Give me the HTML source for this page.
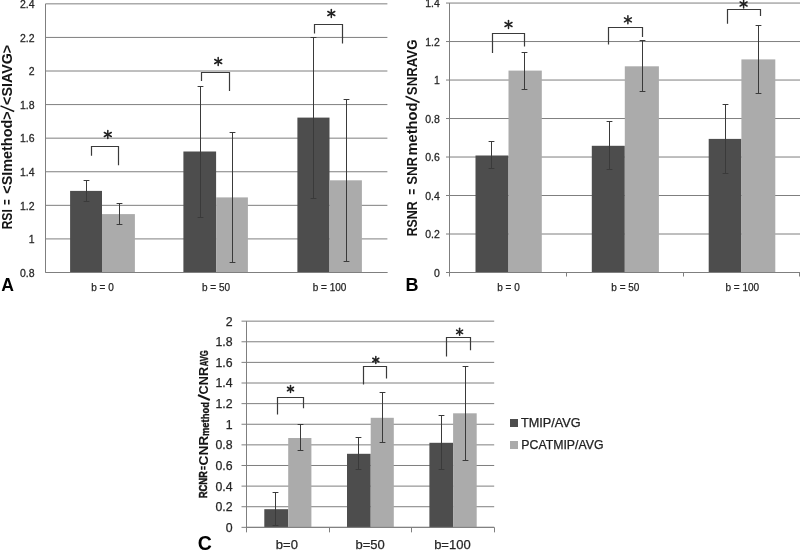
<!DOCTYPE html>
<html><head><meta charset="utf-8"><title>Figure</title>
<style>html,body{margin:0;padding:0;background:#fff;}body{width:800px;height:550px;overflow:hidden;}svg{display:block;font-family:"Liberation Sans", sans-serif;filter:grayscale(1) blur(0.3px);}</style></head><body>
<svg width="800" height="550" viewBox="0 0 800 550">
<rect x="0" y="0" width="800" height="550" fill="#ffffff"/>
<line x1="45.50" y1="3.85" x2="387.4" y2="3.85" stroke="#7f7f7f" stroke-width="1"/>
<text transform="translate(34.6,8.15) scale(1.05,1)" text-anchor="end" font-size="10.0" fill="#262626" stroke="#262626" stroke-width="0.25">2.4</text>
<line x1="45.50" y1="37.43" x2="387.4" y2="37.43" stroke="#7f7f7f" stroke-width="1"/>
<text transform="translate(34.6,41.73) scale(1.05,1)" text-anchor="end" font-size="10.0" fill="#262626" stroke="#262626" stroke-width="0.25">2.2</text>
<line x1="45.50" y1="71.01" x2="387.4" y2="71.01" stroke="#7f7f7f" stroke-width="1"/>
<text transform="translate(34.6,75.31) scale(1.05,1)" text-anchor="end" font-size="10.0" fill="#262626" stroke="#262626" stroke-width="0.25">2</text>
<line x1="45.50" y1="104.59" x2="387.4" y2="104.59" stroke="#7f7f7f" stroke-width="1"/>
<text transform="translate(34.6,108.89) scale(1.05,1)" text-anchor="end" font-size="10.0" fill="#262626" stroke="#262626" stroke-width="0.25">1.8</text>
<line x1="45.50" y1="138.17" x2="387.4" y2="138.17" stroke="#7f7f7f" stroke-width="1"/>
<text transform="translate(34.6,142.47) scale(1.05,1)" text-anchor="end" font-size="10.0" fill="#262626" stroke="#262626" stroke-width="0.25">1.6</text>
<line x1="45.50" y1="171.76" x2="387.4" y2="171.76" stroke="#7f7f7f" stroke-width="1"/>
<text transform="translate(34.6,176.06) scale(1.05,1)" text-anchor="end" font-size="10.0" fill="#262626" stroke="#262626" stroke-width="0.25">1.4</text>
<line x1="45.50" y1="205.34" x2="387.4" y2="205.34" stroke="#7f7f7f" stroke-width="1"/>
<text transform="translate(34.6,209.64) scale(1.05,1)" text-anchor="end" font-size="10.0" fill="#262626" stroke="#262626" stroke-width="0.25">1.2</text>
<line x1="45.50" y1="238.92" x2="387.4" y2="238.92" stroke="#7f7f7f" stroke-width="1"/>
<text transform="translate(34.6,243.22) scale(1.05,1)" text-anchor="end" font-size="10.0" fill="#262626" stroke="#262626" stroke-width="0.25">1</text>
<line x1="45.50" y1="272.50" x2="387.4" y2="272.50" stroke="#7f7f7f" stroke-width="1"/>
<text transform="translate(34.6,276.80) scale(1.05,1)" text-anchor="end" font-size="10.0" fill="#262626" stroke="#262626" stroke-width="0.25">0.8</text>
<line x1="45.5" y1="3.85" x2="45.5" y2="272.50" stroke="#7f7f7f" stroke-width="1"/>
<rect x="70.1" y="190.9" width="31.90" height="81.60" fill="#4d4d4d"/>
<rect x="102" y="214.1" width="32.90" height="58.40" fill="#ababab"/>
<rect x="183.4" y="151.5" width="32.70" height="121.00" fill="#4d4d4d"/>
<rect x="216.1" y="197.4" width="31.80" height="75.10" fill="#ababab"/>
<rect x="297.4" y="117.6" width="32.10" height="154.90" fill="#4d4d4d"/>
<rect x="329.5" y="180.3" width="32.40" height="92.20" fill="#ababab"/>
<line x1="45.5" y1="272.50" x2="387.4" y2="272.50" stroke="#7f7f7f" stroke-width="1"/>
<path d="M86.5 180.5 L86.5 201.5 M83.6 180.5 L89.4 180.5 M83.6 201.5 L89.4 201.5" fill="none" stroke="#3a3a3a" stroke-width="1"/>
<path d="M119.5 203.5 L119.5 224.5 M116.6 203.5 L122.4 203.5 M116.6 224.5 L122.4 224.5" fill="none" stroke="#3a3a3a" stroke-width="1"/>
<path d="M200.5 86.5 L200.5 217.5 M197.6 86.5 L203.4 86.5 M197.6 217.5 L203.4 217.5" fill="none" stroke="#3a3a3a" stroke-width="1"/>
<path d="M232.5 132.5 L232.5 262.5 M229.6 132.5 L235.4 132.5 M229.6 262.5 L235.4 262.5" fill="none" stroke="#3a3a3a" stroke-width="1"/>
<path d="M313.5 37.5 L313.5 198.5 M310.6 37.5 L316.4 37.5 M310.6 198.5 L316.4 198.5" fill="none" stroke="#3a3a3a" stroke-width="1"/>
<path d="M346.5 99.5 L346.5 261.5 M343.6 99.5 L349.4 99.5 M343.6 261.5 L349.4 261.5" fill="none" stroke="#3a3a3a" stroke-width="1"/>
<path d="M91.5 155.7 L91.5 146.5 L118.5 146.5 L118.5 165.3" fill="none" stroke="#3a3a3a" stroke-width="1.2"/>
<path d="M201.5 81 L201.5 72.5 L229.5 72.5 L229.5 91" fill="none" stroke="#3a3a3a" stroke-width="1.2"/>
<path d="M314.5 33.6 L314.5 24.5 L342.5 24.5 L342.5 43.5" fill="none" stroke="#3a3a3a" stroke-width="1.2"/>
<line x1="107.80" y1="130.50" x2="107.80" y2="138.50" stroke="#222" stroke-width="1.5" stroke-linecap="round"/><line x1="104.34" y1="132.50" x2="111.26" y2="136.50" stroke="#222" stroke-width="1.5" stroke-linecap="round"/><line x1="111.26" y1="132.50" x2="104.34" y2="136.50" stroke="#222" stroke-width="1.5" stroke-linecap="round"/>
<line x1="218.20" y1="57.50" x2="218.20" y2="65.50" stroke="#222" stroke-width="1.5" stroke-linecap="round"/><line x1="214.74" y1="59.50" x2="221.66" y2="63.50" stroke="#222" stroke-width="1.5" stroke-linecap="round"/><line x1="221.66" y1="59.50" x2="214.74" y2="63.50" stroke="#222" stroke-width="1.5" stroke-linecap="round"/>
<line x1="331.30" y1="9.50" x2="331.30" y2="17.50" stroke="#222" stroke-width="1.5" stroke-linecap="round"/><line x1="327.84" y1="11.50" x2="334.76" y2="15.50" stroke="#222" stroke-width="1.5" stroke-linecap="round"/><line x1="334.76" y1="11.50" x2="327.84" y2="15.50" stroke="#222" stroke-width="1.5" stroke-linecap="round"/>
<text x="102.5" y="290.8" text-anchor="middle" font-size="10" fill="#262626" stroke="#262626" stroke-width="0.25">b = 0</text>
<text x="216" y="290.8" text-anchor="middle" font-size="10" fill="#262626" stroke="#262626" stroke-width="0.25">b = 50</text>
<text x="329.5" y="290.8" text-anchor="middle" font-size="10" fill="#262626" stroke="#262626" stroke-width="0.25">b = 100</text>
<line x1="446.00" y1="3.05" x2="800" y2="3.05" stroke="#7f7f7f" stroke-width="1"/>
<text transform="translate(439.8,7.45) scale(1.05,1)" text-anchor="end" font-size="10.0" fill="#262626" stroke="#262626" stroke-width="0.25">1.4</text>
<line x1="446.00" y1="41.54" x2="800" y2="41.54" stroke="#7f7f7f" stroke-width="1"/>
<text transform="translate(439.8,45.94) scale(1.05,1)" text-anchor="end" font-size="10.0" fill="#262626" stroke="#262626" stroke-width="0.25">1.2</text>
<line x1="446.00" y1="80.04" x2="800" y2="80.04" stroke="#7f7f7f" stroke-width="1"/>
<text transform="translate(439.8,84.44) scale(1.05,1)" text-anchor="end" font-size="10.0" fill="#262626" stroke="#262626" stroke-width="0.25">1</text>
<line x1="446.00" y1="118.53" x2="800" y2="118.53" stroke="#7f7f7f" stroke-width="1"/>
<text transform="translate(439.8,122.93) scale(1.05,1)" text-anchor="end" font-size="10.0" fill="#262626" stroke="#262626" stroke-width="0.25">0.8</text>
<line x1="446.00" y1="157.02" x2="800" y2="157.02" stroke="#7f7f7f" stroke-width="1"/>
<text transform="translate(439.8,161.42) scale(1.05,1)" text-anchor="end" font-size="10.0" fill="#262626" stroke="#262626" stroke-width="0.25">0.6</text>
<line x1="446.00" y1="195.51" x2="800" y2="195.51" stroke="#7f7f7f" stroke-width="1"/>
<text transform="translate(439.8,199.91) scale(1.05,1)" text-anchor="end" font-size="10.0" fill="#262626" stroke="#262626" stroke-width="0.25">0.4</text>
<line x1="446.00" y1="234.01" x2="800" y2="234.01" stroke="#7f7f7f" stroke-width="1"/>
<text transform="translate(439.8,238.41) scale(1.05,1)" text-anchor="end" font-size="10.0" fill="#262626" stroke="#262626" stroke-width="0.25">0.2</text>
<line x1="446.00" y1="272.50" x2="800" y2="272.50" stroke="#7f7f7f" stroke-width="1"/>
<text transform="translate(439.8,276.90) scale(1.05,1)" text-anchor="end" font-size="10.0" fill="#262626" stroke="#262626" stroke-width="0.25">0</text>
<line x1="449.5" y1="3.05" x2="449.5" y2="276.50" stroke="#7f7f7f" stroke-width="1"/>
<line x1="566.50" y1="272.50" x2="566.50" y2="276.50" stroke="#7f7f7f" stroke-width="1"/>
<line x1="683.50" y1="272.50" x2="683.50" y2="276.50" stroke="#7f7f7f" stroke-width="1"/>
<line x1="799.50" y1="272.50" x2="799.50" y2="276.50" stroke="#7f7f7f" stroke-width="1"/>
<rect x="475.5" y="155.5" width="33.00" height="117.00" fill="#4d4d4d"/>
<rect x="508.5" y="70.6" width="33.30" height="201.90" fill="#ababab"/>
<rect x="591.8" y="145.8" width="33.00" height="126.70" fill="#4d4d4d"/>
<rect x="624.8" y="66.3" width="34.10" height="206.20" fill="#ababab"/>
<rect x="708.7" y="138.9" width="32.70" height="133.60" fill="#4d4d4d"/>
<rect x="741.4" y="59.4" width="33.90" height="213.10" fill="#ababab"/>
<line x1="449.5" y1="272.50" x2="800" y2="272.50" stroke="#7f7f7f" stroke-width="1"/>
<path d="M491.5 141.5 L491.5 168.5 M488.6 141.5 L494.4 141.5 M488.6 168.5 L494.4 168.5" fill="none" stroke="#3a3a3a" stroke-width="1"/>
<path d="M524.5 52.5 L524.5 89.5 M521.6 52.5 L527.4 52.5 M521.6 89.5 L527.4 89.5" fill="none" stroke="#3a3a3a" stroke-width="1"/>
<path d="M609.5 121.5 L609.5 169.5 M606.6 121.5 L612.4 121.5 M606.6 169.5 L612.4 169.5" fill="none" stroke="#3a3a3a" stroke-width="1"/>
<path d="M642.5 40.5 L642.5 91.5 M639.6 40.5 L645.4 40.5 M639.6 91.5 L645.4 91.5" fill="none" stroke="#3a3a3a" stroke-width="1"/>
<path d="M725.5 104.5 L725.5 173.5 M722.6 104.5 L728.4 104.5 M722.6 173.5 L728.4 173.5" fill="none" stroke="#3a3a3a" stroke-width="1"/>
<path d="M758.5 25.5 L758.5 93.5 M755.6 25.5 L761.4 25.5 M755.6 93.5 L761.4 93.5" fill="none" stroke="#3a3a3a" stroke-width="1"/>
<path d="M492.5 52.9 L492.5 33.5 L524.5 33.5 L524.5 46.4" fill="none" stroke="#3a3a3a" stroke-width="1.2"/>
<path d="M608.5 44.6 L608.5 27.5 L642.5 27.5 L642.5 37.1" fill="none" stroke="#3a3a3a" stroke-width="1.2"/>
<path d="M727.5 23.7 L727.5 9.5 L760.5 9.5 L760.5 16" fill="none" stroke="#3a3a3a" stroke-width="1.2"/>
<line x1="508.50" y1="20.50" x2="508.50" y2="28.50" stroke="#222" stroke-width="1.5" stroke-linecap="round"/><line x1="505.04" y1="22.50" x2="511.96" y2="26.50" stroke="#222" stroke-width="1.5" stroke-linecap="round"/><line x1="511.96" y1="22.50" x2="505.04" y2="26.50" stroke="#222" stroke-width="1.5" stroke-linecap="round"/>
<line x1="627.90" y1="15.80" x2="627.90" y2="23.80" stroke="#222" stroke-width="1.5" stroke-linecap="round"/><line x1="624.44" y1="17.80" x2="631.36" y2="21.80" stroke="#222" stroke-width="1.5" stroke-linecap="round"/><line x1="631.36" y1="17.80" x2="624.44" y2="21.80" stroke="#222" stroke-width="1.5" stroke-linecap="round"/>
<line x1="743.60" y1="0.00" x2="743.60" y2="8.00" stroke="#222" stroke-width="1.5" stroke-linecap="round"/><line x1="740.14" y1="2.00" x2="747.06" y2="6.00" stroke="#222" stroke-width="1.5" stroke-linecap="round"/><line x1="747.06" y1="2.00" x2="740.14" y2="6.00" stroke="#222" stroke-width="1.5" stroke-linecap="round"/>
<text x="508.5" y="290.5" text-anchor="middle" font-size="10" fill="#262626" stroke="#262626" stroke-width="0.25">b = 0</text>
<text x="625.4" y="290.5" text-anchor="middle" font-size="10" fill="#262626" stroke="#262626" stroke-width="0.25">b = 50</text>
<text x="742.3" y="290.5" text-anchor="middle" font-size="10" fill="#262626" stroke="#262626" stroke-width="0.25">b = 100</text>
<line x1="241.50" y1="321.15" x2="494.2" y2="321.15" stroke="#7f7f7f" stroke-width="1"/>
<text transform="translate(232.5,325.55) scale(1,1)" text-anchor="end" font-size="12.3" fill="#262626" stroke="#262626" stroke-width="0.25">2</text>
<line x1="241.50" y1="341.77" x2="494.2" y2="341.77" stroke="#7f7f7f" stroke-width="1"/>
<text transform="translate(232.5,346.17) scale(1,1)" text-anchor="end" font-size="12.3" fill="#262626" stroke="#262626" stroke-width="0.25">1.8</text>
<line x1="241.50" y1="362.39" x2="494.2" y2="362.39" stroke="#7f7f7f" stroke-width="1"/>
<text transform="translate(232.5,366.79) scale(1,1)" text-anchor="end" font-size="12.3" fill="#262626" stroke="#262626" stroke-width="0.25">1.6</text>
<line x1="241.50" y1="383.01" x2="494.2" y2="383.01" stroke="#7f7f7f" stroke-width="1"/>
<text transform="translate(232.5,387.41) scale(1,1)" text-anchor="end" font-size="12.3" fill="#262626" stroke="#262626" stroke-width="0.25">1.4</text>
<line x1="241.50" y1="403.63" x2="494.2" y2="403.63" stroke="#7f7f7f" stroke-width="1"/>
<text transform="translate(232.5,408.03) scale(1,1)" text-anchor="end" font-size="12.3" fill="#262626" stroke="#262626" stroke-width="0.25">1.2</text>
<line x1="241.50" y1="424.25" x2="494.2" y2="424.25" stroke="#7f7f7f" stroke-width="1"/>
<text transform="translate(232.5,428.65) scale(1,1)" text-anchor="end" font-size="12.3" fill="#262626" stroke="#262626" stroke-width="0.25">1</text>
<line x1="241.50" y1="444.87" x2="494.2" y2="444.87" stroke="#7f7f7f" stroke-width="1"/>
<text transform="translate(232.5,449.27) scale(1,1)" text-anchor="end" font-size="12.3" fill="#262626" stroke="#262626" stroke-width="0.25">0.8</text>
<line x1="241.50" y1="465.49" x2="494.2" y2="465.49" stroke="#7f7f7f" stroke-width="1"/>
<text transform="translate(232.5,469.89) scale(1,1)" text-anchor="end" font-size="12.3" fill="#262626" stroke="#262626" stroke-width="0.25">0.6</text>
<line x1="241.50" y1="486.11" x2="494.2" y2="486.11" stroke="#7f7f7f" stroke-width="1"/>
<text transform="translate(232.5,490.51) scale(1,1)" text-anchor="end" font-size="12.3" fill="#262626" stroke="#262626" stroke-width="0.25">0.4</text>
<line x1="241.50" y1="506.73" x2="494.2" y2="506.73" stroke="#7f7f7f" stroke-width="1"/>
<text transform="translate(232.5,511.13) scale(1,1)" text-anchor="end" font-size="12.3" fill="#262626" stroke="#262626" stroke-width="0.25">0.2</text>
<line x1="241.50" y1="527.35" x2="494.2" y2="527.35" stroke="#7f7f7f" stroke-width="1"/>
<text transform="translate(232.5,531.75) scale(1,1)" text-anchor="end" font-size="12.3" fill="#262626" stroke="#262626" stroke-width="0.25">0</text>
<line x1="246.5" y1="321.15" x2="246.5" y2="532.35" stroke="#7f7f7f" stroke-width="1"/>
<line x1="329.50" y1="527.35" x2="329.50" y2="532.35" stroke="#7f7f7f" stroke-width="1"/>
<line x1="411.50" y1="527.35" x2="411.50" y2="532.35" stroke="#7f7f7f" stroke-width="1"/>
<line x1="494.50" y1="527.35" x2="494.50" y2="532.35" stroke="#7f7f7f" stroke-width="1"/>
<rect x="264.3" y="509.2" width="23.90" height="18.15" fill="#4d4d4d"/>
<rect x="288.2" y="438" width="23.20" height="89.35" fill="#ababab"/>
<rect x="347" y="453.8" width="23.70" height="73.55" fill="#4d4d4d"/>
<rect x="370.7" y="417.8" width="23.10" height="109.55" fill="#ababab"/>
<rect x="429.4" y="442.8" width="23.70" height="84.55" fill="#4d4d4d"/>
<rect x="453.1" y="413.3" width="23.60" height="114.05" fill="#ababab"/>
<line x1="246.5" y1="527.35" x2="494.2" y2="527.35" stroke="#7f7f7f" stroke-width="1"/>
<path d="M275.5 492.5 L275.5 525.5 M272.6 492.5 L278.4 492.5 M272.6 525.5 L278.4 525.5" fill="none" stroke="#3a3a3a" stroke-width="1"/>
<path d="M300.5 424.5 L300.5 450.5 M297.6 424.5 L303.4 424.5 M297.6 450.5 L303.4 450.5" fill="none" stroke="#3a3a3a" stroke-width="1"/>
<path d="M358.5 437.5 L358.5 469.5 M355.6 437.5 L361.4 437.5 M355.6 469.5 L361.4 469.5" fill="none" stroke="#3a3a3a" stroke-width="1"/>
<path d="M382.5 392.5 L382.5 442.5 M379.6 392.5 L385.4 392.5 M379.6 442.5 L385.4 442.5" fill="none" stroke="#3a3a3a" stroke-width="1"/>
<path d="M441.5 415.5 L441.5 469.5 M438.6 415.5 L444.4 415.5 M438.6 469.5 L444.4 469.5" fill="none" stroke="#3a3a3a" stroke-width="1"/>
<path d="M465.5 366.5 L465.5 460.5 M462.6 366.5 L468.4 366.5 M462.6 460.5 L468.4 460.5" fill="none" stroke="#3a3a3a" stroke-width="1"/>
<path d="M277.5 414.4 L277.5 397.5 L303.5 397.5 L303.5 408.2" fill="none" stroke="#3a3a3a" stroke-width="1.2"/>
<path d="M363.5 384.6 L363.5 366.5 L386.5 366.5 L386.5 378.5" fill="none" stroke="#3a3a3a" stroke-width="1.2"/>
<path d="M446.5 356.6 L446.5 337.5 L470.5 337.5 L470.5 350.2" fill="none" stroke="#3a3a3a" stroke-width="1.2"/>
<line x1="290.50" y1="385.50" x2="290.50" y2="392.50" stroke="#222" stroke-width="1.5" stroke-linecap="round"/><line x1="287.47" y1="387.25" x2="293.53" y2="390.75" stroke="#222" stroke-width="1.5" stroke-linecap="round"/><line x1="293.53" y1="387.25" x2="287.47" y2="390.75" stroke="#222" stroke-width="1.5" stroke-linecap="round"/>
<line x1="375.80" y1="356.50" x2="375.80" y2="363.50" stroke="#222" stroke-width="1.5" stroke-linecap="round"/><line x1="372.77" y1="358.25" x2="378.83" y2="361.75" stroke="#222" stroke-width="1.5" stroke-linecap="round"/><line x1="378.83" y1="358.25" x2="372.77" y2="361.75" stroke="#222" stroke-width="1.5" stroke-linecap="round"/>
<line x1="459.60" y1="328.30" x2="459.60" y2="335.30" stroke="#222" stroke-width="1.5" stroke-linecap="round"/><line x1="456.57" y1="330.05" x2="462.63" y2="333.55" stroke="#222" stroke-width="1.5" stroke-linecap="round"/><line x1="462.63" y1="330.05" x2="456.57" y2="333.55" stroke="#222" stroke-width="1.5" stroke-linecap="round"/>
<text x="286.9" y="548.6" text-anchor="middle" font-size="13" fill="#262626" stroke="#262626" stroke-width="0.25">b=0</text>
<text x="370.2" y="548.6" text-anchor="middle" font-size="13" fill="#262626" stroke="#262626" stroke-width="0.25">b=50</text>
<text x="452.4" y="548.6" text-anchor="middle" font-size="13" fill="#262626" stroke="#262626" stroke-width="0.25">b=100</text>
<line x1="14.2" y1="111.5" x2="0.5" y2="105.9" stroke="#151515" stroke-width="1.5"/>
<line x1="419.6" y1="102.5" x2="405.5" y2="96.3" stroke="#151515" stroke-width="1.5"/>
<line x1="209.8" y1="400.0" x2="198.0" y2="395.0" stroke="#151515" stroke-width="2.0"/>
<text x="1.2" y="290.6" font-size="17.6" font-weight="bold" fill="#000">A</text>
<text x="405.6" y="290.5" font-size="18" font-weight="bold" fill="#000">B</text>
<text x="197.8" y="550.0" font-size="19.5" font-weight="bold" fill="#000">C</text>
<rect x="510" y="419" width="8" height="8" fill="#4d4d4d"/>
<text x="521" y="426.7" font-size="12" fill="#222" stroke="#222" stroke-width="0.25" textLength="59.7" lengthAdjust="spacingAndGlyphs">TMIP/AVG</text>
<rect x="510" y="441" width="8" height="8" fill="#ababab"/>
<text x="521.3" y="449" font-size="12" fill="#222" stroke="#222" stroke-width="0.25" textLength="82.2" lengthAdjust="spacingAndGlyphs">PCATMIP/AVG</text>
<text transform="translate(12.3,228.6) rotate(-90) scale(0.8651,1)" x="-0.90" font-size="14" font-weight="bold" fill="#151515">RSI</text>
<text transform="translate(12.3,204.5) rotate(-90) scale(0.7000,1)" x="-0.60" font-size="14" font-weight="bold" fill="#151515">=</text>
<text transform="translate(12.3,193.1) rotate(-90) scale(1.0278,1)" x="-0.60" font-size="14" font-weight="bold" fill="#151515">&lt;SImethod&gt;</text>
<text transform="translate(12.3,104.3) rotate(-90) scale(1.0191,1)" x="-0.60" font-size="14" font-weight="bold" fill="#151515">&lt;SIAVG&gt;</text>
<text transform="translate(417.3,235.5) rotate(-90) scale(0.8740,1)" x="-1.00" font-size="14.2" font-weight="bold" fill="#151515">RSNR</text>
<text transform="translate(417.3,194.2) rotate(-90) scale(0.7183,1)" x="-0.60" font-size="14.2" font-weight="bold" fill="#151515">=</text>
<text transform="translate(417.3,184.5) rotate(-90) scale(0.9315,1)" x="-0.40" font-size="14.2" font-weight="bold" fill="#151515">SNR</text>
<text transform="translate(417.3,154.7) rotate(-90) scale(1.0364,1)" x="-0.90" font-size="14.2" font-weight="bold" fill="#151515">method</text>
<text transform="translate(417.3,94.8) rotate(-90) scale(0.9315,1)" x="-0.40" font-size="14.2" font-weight="bold" fill="#151515">SNRAVG</text>
<text transform="translate(207.2,497.7) rotate(-90) scale(0.9167,1)" x="-0.70" font-size="10.3" font-weight="bold" fill="#151515" stroke="#151515" stroke-width="0.45">RCNR</text>
<text transform="translate(207.2,469.7) rotate(-90) scale(0.6731,1)" x="-0.40" font-size="10.3" font-weight="bold" fill="#151515" stroke="#151515" stroke-width="0.3">=</text>
<text transform="translate(208.2,465.0) rotate(-90) scale(1.0943,1)" x="-0.50" font-size="12.6" font-weight="bold" fill="#151515">CNR</text>
<text transform="translate(209.4,435.5) rotate(-90) scale(0.8986,1)" x="-0.70" font-size="10.5" font-weight="bold" fill="#151515" stroke="#151515" stroke-width="0.35">method</text>
<text transform="translate(207.7,393.9) rotate(-90) scale(1.0595,1)" x="-0.50" font-size="12" font-weight="bold" fill="#151515">CNR</text>
<text transform="translate(208.0,366.0) rotate(-90) scale(0.7550,1)" x="-0.30" font-size="10.0" font-weight="bold" fill="#151515" stroke="#151515" stroke-width="0.35">AVG</text>
</svg></body></html>
